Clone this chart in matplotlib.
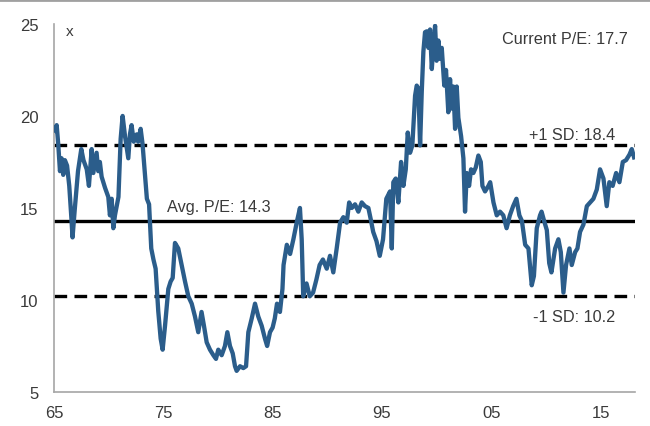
# S&P 500 forward P/E, 1965 - 2018
import matplotlib
matplotlib.use('Agg')
import matplotlib.pyplot as plt
from matplotlib.lines import Line2D

# values (year, forward P/E)
years = [
    1965.09, 1965.25, 1965.40, 1965.55, 1965.70, 1965.85, 1966.00, 1966.20, 1966.40, 1966.60,
    1966.70, 1966.90, 1967.20, 1967.50, 1967.70, 1968.00, 1968.20, 1968.45, 1968.60, 1968.90,
    1969.05, 1969.20, 1969.36, 1969.67, 1969.97, 1970.12, 1970.28, 1970.43, 1970.58, 1970.90,
    1971.10, 1971.28, 1971.50, 1971.80, 1971.95, 1972.10, 1972.30, 1972.57, 1972.70, 1972.93,
    1973.10, 1973.30, 1973.50, 1973.70, 1973.90, 1974.10, 1974.30, 1974.54, 1974.76, 1974.94,
    1975.16, 1975.46, 1975.67, 1975.86, 1976.07, 1976.37, 1976.68, 1976.99, 1977.29, 1977.60,
    1977.90, 1978.20, 1978.50, 1978.72, 1978.97, 1979.27, 1979.58, 1979.82, 1980.03, 1980.34,
    1980.64, 1980.86, 1981.10, 1981.35, 1981.56, 1981.71, 1982.02, 1982.32, 1982.57, 1982.78,
    1983.09, 1983.39, 1983.69, 1984.00, 1984.30, 1984.50, 1984.76, 1985.00, 1985.20, 1985.40,
    1985.67, 1985.90, 1986.00, 1986.30, 1986.60, 1986.90, 1987.20, 1987.50, 1987.66, 1987.80,
    1988.10, 1988.40, 1988.70, 1989.00, 1989.30, 1989.60, 1989.95, 1990.25, 1990.55, 1990.86,
    1991.17, 1991.47, 1991.78, 1992.00, 1992.24, 1992.54, 1992.84, 1993.15, 1993.45, 1993.76,
    1993.97, 1994.20, 1994.50, 1994.80, 1995.10, 1995.40, 1995.74, 1995.90, 1996.04, 1996.26,
    1996.50, 1996.75, 1996.96, 1997.18, 1997.36, 1997.57, 1997.78, 1998.03, 1998.18, 1998.33,
    1998.49, 1998.64, 1998.79, 1998.94, 1999.10, 1999.25, 1999.40, 1999.56, 1999.70, 1999.86,
    2000.00, 2000.16, 2000.30, 2000.47, 2000.70, 2000.86, 2001.07, 2001.23, 2001.38, 2001.53,
    2001.69, 2001.84, 2001.99, 2002.24, 2002.45, 2002.60, 2002.76, 2002.97, 2003.15, 2003.36,
    2003.58, 2003.82, 2004.04, 2004.19, 2004.43, 2004.74, 2004.90, 2005.20, 2005.50, 2005.80,
    2006.10, 2006.40, 2006.70, 2007.00, 2007.30, 2007.57, 2007.80, 2008.10, 2008.40, 2008.70,
    2008.90, 2009.16, 2009.46, 2009.60, 2009.83, 2010.08, 2010.30, 2010.50, 2010.84, 2011.14,
    2011.36, 2011.60, 2011.84, 2012.15, 2012.36, 2012.67, 2012.88, 2013.12, 2013.43, 2013.74,
    2014.04, 2014.34, 2014.65, 2014.95, 2015.26, 2015.56, 2015.80, 2016.10, 2016.42, 2016.72,
    2017.03, 2017.33, 2017.64, 2017.85, 2018.06,
]
pe = [
    19.2, 19.5, 18.4, 17.0, 17.7, 16.8, 17.6, 17.3, 16.2, 14.4,
    13.4, 14.9, 17.0, 18.2, 17.6, 17.1, 16.2, 18.2, 16.9, 18.0,
    17.0, 17.5, 16.7, 16.1, 15.6, 14.6, 15.5, 13.9, 14.6, 15.6,
    18.75, 20.0, 18.9, 17.7, 19.0, 19.5, 18.6, 19.0, 18.6, 19.3,
    18.5, 17.0, 15.5, 15.2, 12.8, 12.2, 11.7, 9.4, 7.9, 7.3,
    8.6, 10.6, 11.0, 11.2, 13.1, 12.8, 11.9, 11.0, 10.2, 9.8,
    9.1, 8.25, 9.35, 8.6, 7.7, 7.3, 7.0, 6.8, 7.3, 7.0,
    7.5, 8.25, 7.5, 7.1, 6.4, 6.15, 6.4, 6.3, 6.4, 8.25,
    9.0, 9.8, 9.1, 8.6, 7.9, 7.5, 8.25, 8.5, 9.0, 9.8,
    9.35, 10.6, 11.9, 13.0, 12.5, 13.3, 14.2, 15.0, 13.3, 10.2,
    10.9, 10.2, 10.4, 11.1, 11.9, 12.2, 11.7, 12.4, 11.5, 12.8,
    14.2, 14.5, 14.2, 15.3, 15.0, 15.2, 14.8, 15.3, 15.1, 15.0,
    14.4, 13.7, 13.2, 12.4, 13.3, 15.5, 15.9, 12.8, 16.4, 16.6,
    15.3, 17.5, 16.2, 17.1, 19.1, 18.0, 18.4, 21.1, 21.65, 21.5,
    18.4, 21.3, 23.5, 24.55, 24.6, 23.7, 24.7, 22.55, 23.8, 24.9,
    23.0, 24.1, 23.1, 23.7, 21.65, 22.5, 20.2, 22.0, 20.4, 21.6,
    19.3, 21.6, 19.9, 18.9, 17.7, 14.8, 16.9, 16.2, 17.1, 16.9,
    17.2, 17.85, 17.5, 16.2, 15.9, 16.2, 16.4, 15.3, 14.6, 14.8,
    14.6, 13.9, 14.6, 15.1, 15.5, 14.6, 14.3, 13.0, 12.8, 10.8,
    11.3, 13.9, 14.6, 14.8, 14.3, 13.8, 12.0, 11.5, 12.8, 13.3,
    12.6, 10.4, 11.9, 12.8, 11.9, 12.6, 12.8, 13.7, 14.1, 15.1,
    15.3, 15.5, 16.0, 17.1, 16.6, 15.1, 16.4, 16.2, 16.9, 16.4,
    17.5, 17.6, 17.9, 18.2, 17.75,
]

avg_pe = 14.3
plus_sd = 18.4
minus_sd = 10.2
current_pe = 17.7

tick_years = [1965, 1975, 1985, 1995, 2005, 2015]
tick_labels = ['65', '75', '85', '95', '05', '15']

plt.rcParams['font.family'] = ['Liberation Sans', 'DejaVu Sans']

fig = plt.figure(figsize=(6.5, 4.27), dpi=100)
ax = fig.add_axes([0.083, 0.0796, 0.894, 0.862])

text_color = '#3a3a3a'
ax.plot(years, pe, color='#2b5d8b', linewidth=3.1, solid_joinstyle='round', zorder=3)
ax.axhline(plus_sd, color='black', linewidth=2.4, linestyle=(0, (3.8, 2.2)), zorder=2)
ax.axhline(avg_pe, color='black', linewidth=2.4, zorder=2)
ax.axhline(minus_sd, color='black', linewidth=2.4, linestyle=(0, (3.8, 2.2)), zorder=2)

ax.set_xlim(1965, 2018.15)
ax.set_ylim(5, 25)
ax.set_xticks(tick_years)
ax.set_xticklabels(tick_labels)
ax.set_yticks([5, 10, 15, 20, 25])
ax.tick_params(length=0, labelsize=12, colors=text_color)
ax.tick_params(axis='y', pad=11)
ax.tick_params(axis='x', pad=9)
for side in ['top', 'right']:
    ax.spines[side].set_visible(False)
for side in ['left', 'bottom']:
    ax.spines[side].set_color('#a6a6a6')
    ax.spines[side].set_linewidth(1.2)

ax.text(1966.1, 24.6, 'x', fontsize=11, color=text_color, va='center')
ax.text(2017.5, 24.2, 'Current P/E: %.1f' % current_pe, fontsize=11.7, color=text_color,
        ha='right', va='center')
ax.text(2016.3, 19.0, '+1 SD: %.1f' % plus_sd, fontsize=11.7, color=text_color,
        ha='right', va='center')
ax.text(1975.3, 15.1, 'Avg. P/E: %.1f' % avg_pe, fontsize=11.7, color=text_color,
        ha='left', va='center')
ax.text(2016.3, 9.1, '-1 SD: %.1f' % minus_sd, fontsize=11.7, color=text_color,
        ha='right', va='center')

# thin gray frame edge along the top, as in the source image
fig.add_artist(Line2D([0, 1], [0.997, 0.997], color='#a0a0a0', linewidth=2))

fig.savefig('out.png', dpi=100)
